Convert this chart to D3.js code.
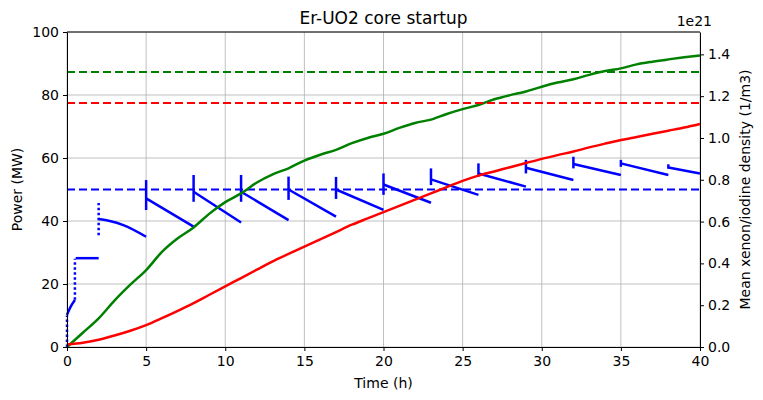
<!DOCTYPE html>
<html><head><meta charset="utf-8">
<script src="https://cdn.jsdelivr.net/npm/d3@7"></script>
<style>
body{margin:0;background:#fff;}
text{font-family:"DejaVu Sans",sans-serif;fill:#000;}
</style></head>
<body><svg id="c" width="763" height="400"></svg>
<script>
// ---- data ----
const hours = d3.range(0, 41);
const iodine = [0,0.068,0.137,0.222,0.298,0.368,0.455,0.52,0.572,0.638,0.693,0.735,0.787,0.826,0.855,0.892,0.92,0.943,0.975,1.0,1.02,1.048,1.072,1.088,1.115,1.138,1.158,1.185,1.205,1.222,1.245,1.265,1.281,1.302,1.32,1.333,1.352,1.365,1.376,1.386,1.395];
const xenon = [0.012,0.02,0.035,0.055,0.078,0.105,0.138,0.173,0.21,0.25,0.29,0.33,0.37,0.41,0.445,0.48,0.515,0.55,0.585,0.615,0.645,0.675,0.705,0.735,0.765,0.795,0.82,0.84,0.86,0.88,0.9,0.918,0.935,0.955,0.973,0.99,1.005,1.02,1.035,1.05,1.067];
const powerSegments = [
  [[0,10.2],[0.2,12.5],[0.5,14.9]],
  [[0.55,28.2],[2,28.2]],
  [[2,40.6],[2.7,40.0],[3.56,38.7],[5,35.0]],
  [[5,47.2],[8,38.2]],
  [[8,49.3],[11,39.5]],
  [[11,49.3],[14,40.3]],
  [[14,50.0],[17,41.4]],
  [[17,50.0],[20,43.5]],
  [[20,51.6],[23,45.8]],
  [[23,53.2],[26,48.3]],
  [[26,55.1],[29,50.9]],
  [[29,56.9],[32,53.0]],
  [[32,58.1],[35,54.6]],
  [[35,58.3],[38,54.6]],
  [[38,57.0],[40,55.1]]
];
const spikeTimes = [0, 0.5, 2, 5, 8, 11, 14, 17, 20, 23, 26, 29, 32, 35, 38];
const spikeLow   = [0, 15, 35.5, 43.5, 46.1, 46.1, 46.7, 47.0, 48.3, 51.4, 54.1, 55.1, 56.7, 57.2, 56.6];
const spikeHigh  = [10, 28, 45.7, 53.0, 54.6, 54.6, 54.1, 54.0, 55.1, 56.7, 58.3, 59.4, 60.4, 59.4, 58.0];
const spikeDotted = [true, true, true, false, false, false, false, false, false, false, false, false, false, false, false];
const powerTarget = 50;
const iodineEq = 1.316;
const xenonEq = 1.167;
const xTicks = d3.range(0, 41, 5);
const leftTicks = [0,20,40,60,80,100];
const rightTicks = [0,0.2,0.4,0.6,0.8,1.0,1.2,1.4];

// ---- layout ----
const svg = d3.select("#c");
const L = 67, R = 700, T = 32, B = 347;
const x = d3.scaleLinear().domain([0, 40]).range([L, R]);
const yL = d3.scaleLinear().domain([0, 100]).range([B, T]);
const yR = d3.scaleLinear().domain([0, 1.507]).range([B, T]);

// grid
const g = svg.append("g");
g.selectAll(".gx").data(xTicks).enter().append("line")
  .attr("x1", d => x(d)).attr("x2", d => x(d)).attr("y1", T).attr("y2", B)
  .attr("stroke", "#b0b0b0").attr("stroke-width", 0.8);
g.selectAll(".gy").data(leftTicks).enter().append("line")
  .attr("x1", L).attr("x2", R).attr("y1", d => yL(d)).attr("y2", d => yL(d))
  .attr("stroke", "#b0b0b0").attr("stroke-width", 0.8);

const plot = svg.append("g");
// power
const lineL = d3.line().x(d => x(d[0])).y(d => yL(d[1])).curve(d3.curveMonotoneX);
plot.selectAll(".seg").data(powerSegments).enter().append("path")
  .attr("d", lineL).attr("fill", "none").attr("stroke", "#0000ff").attr("stroke-width", 2.5);
plot.selectAll(".spk").data(spikeTimes).enter().append("line")
  .attr("x1", d => x(d)).attr("x2", d => x(d))
  .attr("y1", (d, i) => yL(spikeLow[i])).attr("y2", (d, i) => yL(spikeHigh[i]))
  .attr("stroke", "#0000ff").attr("stroke-width", 2.5)
  .attr("stroke-dasharray", (d, i) => spikeDotted[i] ? "2.5,2.5" : null);
plot.append("line").attr("x1", L).attr("x2", R).attr("y1", yL(powerTarget)).attr("y2", yL(powerTarget))
  .attr("stroke", "#0000ff").attr("stroke-width", 2).attr("stroke-dasharray", "8,4");

// densities
const lineR = d3.line().x((d, i) => x(hours[i])).y(d => yR(d)).curve(d3.curveMonotoneX);
plot.append("path").attr("d", lineR(iodine)).attr("fill", "none").attr("stroke", "#008000").attr("stroke-width", 2.5);
plot.append("path").attr("d", lineR(xenon)).attr("fill", "none").attr("stroke", "#ff0000").attr("stroke-width", 2.5);
plot.append("line").attr("x1", L).attr("x2", R).attr("y1", yR(iodineEq)).attr("y2", yR(iodineEq))
  .attr("stroke", "#008000").attr("stroke-width", 2).attr("stroke-dasharray", "8,4");
plot.append("line").attr("x1", L).attr("x2", R).attr("y1", yR(xenonEq)).attr("y2", yR(xenonEq))
  .attr("stroke", "#ff0000").attr("stroke-width", 2).attr("stroke-dasharray", "8,4");

// axes
function style(sel){
  sel.selectAll("path").attr("stroke", "#000").attr("stroke-width", 1);
  sel.selectAll("line").attr("stroke", "#000").attr("stroke-width", 1);
  sel.selectAll("text").attr("font-size", 14).attr("font-family", "DejaVu Sans");
}
svg.append("g").attr("transform", `translate(0,${B})`)
  .call(d3.axisBottom(x).tickValues(xTicks).tickSize(4).tickPadding(5).tickSizeOuter(0)).call(style);
svg.append("g").attr("transform", `translate(${L},0)`)
  .call(d3.axisLeft(yL).tickValues(leftTicks).tickSize(4).tickPadding(4).tickSizeOuter(0)).call(style);
svg.append("g").attr("transform", `translate(${R},0)`)
  .call(d3.axisRight(yR).tickValues(rightTicks).tickFormat(d3.format(".1f")).tickSize(4).tickPadding(4).tickSizeOuter(0)).call(style);
svg.append("line").attr("x1", L).attr("x2", R).attr("y1", T).attr("y2", T).attr("stroke", "#000").attr("stroke-width", 1);

// labels
svg.append("text").attr("x", (L + R) / 2).attr("y", 24).attr("text-anchor", "middle").attr("font-size", 17).text("Er-UO2 core startup");
svg.append("text").attr("x", (L + R) / 2).attr("y", 388).attr("text-anchor", "middle").attr("font-size", 14).text("Time (h)");
svg.append("text").attr("transform", `translate(22,${(T + B) / 2}) rotate(-90)`).attr("text-anchor", "middle").attr("font-size", 14).text("Power (MW)");
svg.append("text").attr("transform", `translate(750,${(T + B) / 2}) rotate(-90)`).attr("text-anchor", "middle").attr("font-size", 14).text("Mean xenon/iodine density (1/m3)");
svg.append("text").attr("x", R + 12).attr("y", 26).attr("text-anchor", "end").attr("font-size", 14).text("1e21");
</script></body></html>
